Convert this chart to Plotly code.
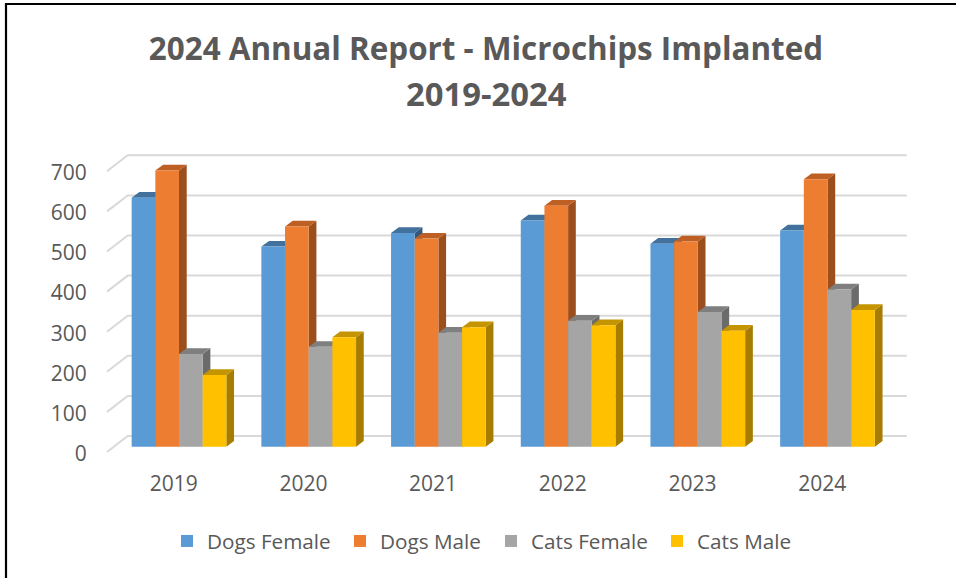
import plotly.graph_objects as go

years = ["2019", "2020", "2021", "2022", "2023", "2024"]
series_names = ["Dogs Female", "Dogs Male", "Cats Female", "Cats Male"]
dogs_female = [621, 499, 533, 564, 506, 539]
dogs_male = [689, 549, 519, 601, 512, 667]
cats_female = [231, 249, 284, 314, 336, 392]
cats_male = [179, 273, 298, 303, 289, 341]
y_ticks = [0, 100, 200, 300, 400, 500, 600, 700]
title_line1 = "2024 Annual Report - Microchips Implanted"
title_line2 = "2019-2024"

front_colors = ["#5B9BD5", "#ED7D31", "#A5A5A5", "#FFC000"]
top_colors = ["#41719C", "#BE5F24", "#7F7F7F", "#C49500"]
side_colors = ["#335A7E", "#9C4E1D", "#6B6B6B", "#A67D00"]
TEXT = "#595959"
GRID = "#D9D9D9"

W, H = 956, 578
L, R, T, B = 100, 915, 140, 460
PX_X, PX_Y = 129.7, 0.401      # pixels per group, pixels per unit
X0_PX, Y0_PX = 179.0, 446.7    # pixel position of group 0 centre / value 0
BAR_W = 23.67 / PX_X
DX, DY = 7.7 / PX_X, 5.7 / PX_Y   # bar depth
WALL_FRONT = (-0.555, -13.2)
WALL_BACK = (-0.3955, 26.7)
WALL_RIGHT = 5.611
LABEL_SHIFT = -5.3 / PX_X
Y_LABEL_SHIFT = -1.5 / PX_Y
LEGEND_LEFTS = [167, 340, 491, 657]

xr = [(L - X0_PX) / PX_X, (R - X0_PX) / PX_X]
yr = [(Y0_PX - B) / PX_Y, (Y0_PX - T) / PX_Y]

fig = go.Figure()

# Back wall gridlines with the slanted side-wall segment
gx, gy = [], []
for v in y_ticks:
    gx += [WALL_FRONT[0], WALL_BACK[0], WALL_RIGHT, None]
    gy += [v + WALL_FRONT[1], v + WALL_BACK[1], v + WALL_BACK[1], None]
fig.add_trace(go.Scatter(x=gx, y=gy, mode="lines", line=dict(color=GRID, width=2),
                         showlegend=False, hoverinfo="skip", zorder=0))

all_values = [dogs_female, dogs_male, cats_female, cats_male]
legend_keys = ["legend", "legend2", "legend3", "legend4"]
for s, (name, values) in enumerate(zip(series_names, all_values)):
    offset = (s - 2) * BAR_W
    lefts = [i + offset for i in range(len(years))]
    sx, sy, tx, ty = [], [], [], []
    for x_left, v in zip(lefts, values):
        x_right = x_left + BAR_W
        sx += [x_right, x_right + DX, x_right + DX, x_right, x_right, None]
        sy += [0, DY, v + DY, v, 0, None]
        tx += [x_left, x_left + DX, x_right + DX, x_right, x_left, None]
        ty += [v, v + DY, v + DY, v, v, None]
    fig.add_trace(go.Scatter(x=sx, y=sy, mode="lines", fill="toself", fillcolor=side_colors[s],
                             line=dict(width=0, color=side_colors[s]), showlegend=False,
                             hoverinfo="skip", zorder=2 * s + 1))
    fig.add_trace(go.Scatter(x=tx, y=ty, mode="lines", fill="toself", fillcolor=top_colors[s],
                             line=dict(width=0, color=top_colors[s]), showlegend=False,
                             hoverinfo="skip", zorder=2 * s + 1))
    fig.add_trace(go.Bar(x=lefts, y=values, name=name, width=BAR_W, offset=0,
                         marker=dict(color=front_colors[s], line=dict(width=0)),
                         legend=legend_keys[s], showlegend=True,
                         zorder=2 * s + 2))

legend_layouts = {
    key: dict(orientation="h", x=(left - L) / (R - L), xanchor="left",
              y=(B - 541) / (B - T), yanchor="middle",
              font=dict(size=20.7, color=TEXT), bgcolor="rgba(0,0,0,0)")
    for key, left in zip(legend_keys, LEGEND_LEFTS)
}

fig.update_layout(
    width=W, height=H, autosize=False,
    margin=dict(l=L, r=W - R, t=T, b=H - B, pad=0),
    paper_bgcolor="white", plot_bgcolor="white", barmode="overlay",
    font=dict(family="Open Sans", color=TEXT, size=21),
    title=dict(text=title_line1, x=486 / W, xanchor="center", y=1 - 49 / H, yanchor="middle",
               font=dict(family="Open Sans", size=31.4, color=TEXT, weight="bold")),
    xaxis=dict(range=xr, tickmode="array", tickvals=[i + LABEL_SHIFT for i in range(len(years))],
               ticktext=years, showgrid=False, zeroline=False, showline=False,
               ticks="outside", ticklen=5, tickcolor="rgba(0,0,0,0)",
               tickfont=dict(size=21, color=TEXT)),
    yaxis=dict(range=yr, tickmode="array", tickvals=[v + WALL_FRONT[1] + Y_LABEL_SHIFT for v in y_ticks],
               ticktext=[str(v) for v in y_ticks], showgrid=False, zeroline=False, showline=False,
               ticks="outside", ticklen=8, tickcolor="rgba(0,0,0,0)",
               tickfont=dict(size=21, color=TEXT)),
    annotations=[dict(text=title_line2, xref="paper", yref="paper",
                      x=(486.5 - L) / (R - L), y=(B - 93.5) / (B - T), xanchor="center", yanchor="middle",
                      showarrow=False, font=dict(family="Open Sans", size=32.8, color=TEXT, weight="bold"))],
    shapes=[
        dict(type="line", xref="paper", yref="paper", x0=(5.5 - L) / (R - L), x1=(W - L) / (R - L),
             y0=(B - 4) / (B - T), y1=(B - 4) / (B - T), line=dict(color="black", width=2.2)),
        dict(type="line", xref="paper", yref="paper", x0=(6 - L) / (R - L), x1=(6 - L) / (R - L),
             y0=(B - 3) / (B - T), y1=(B - H) / (B - T), line=dict(color="black", width=2.2)),
    ],
    **legend_layouts,
)

fig.write_html("out.html", config={"displayModeBar": False},
               post_script="document.body.style.margin='0';document.documentElement.style.overflow='hidden';")
